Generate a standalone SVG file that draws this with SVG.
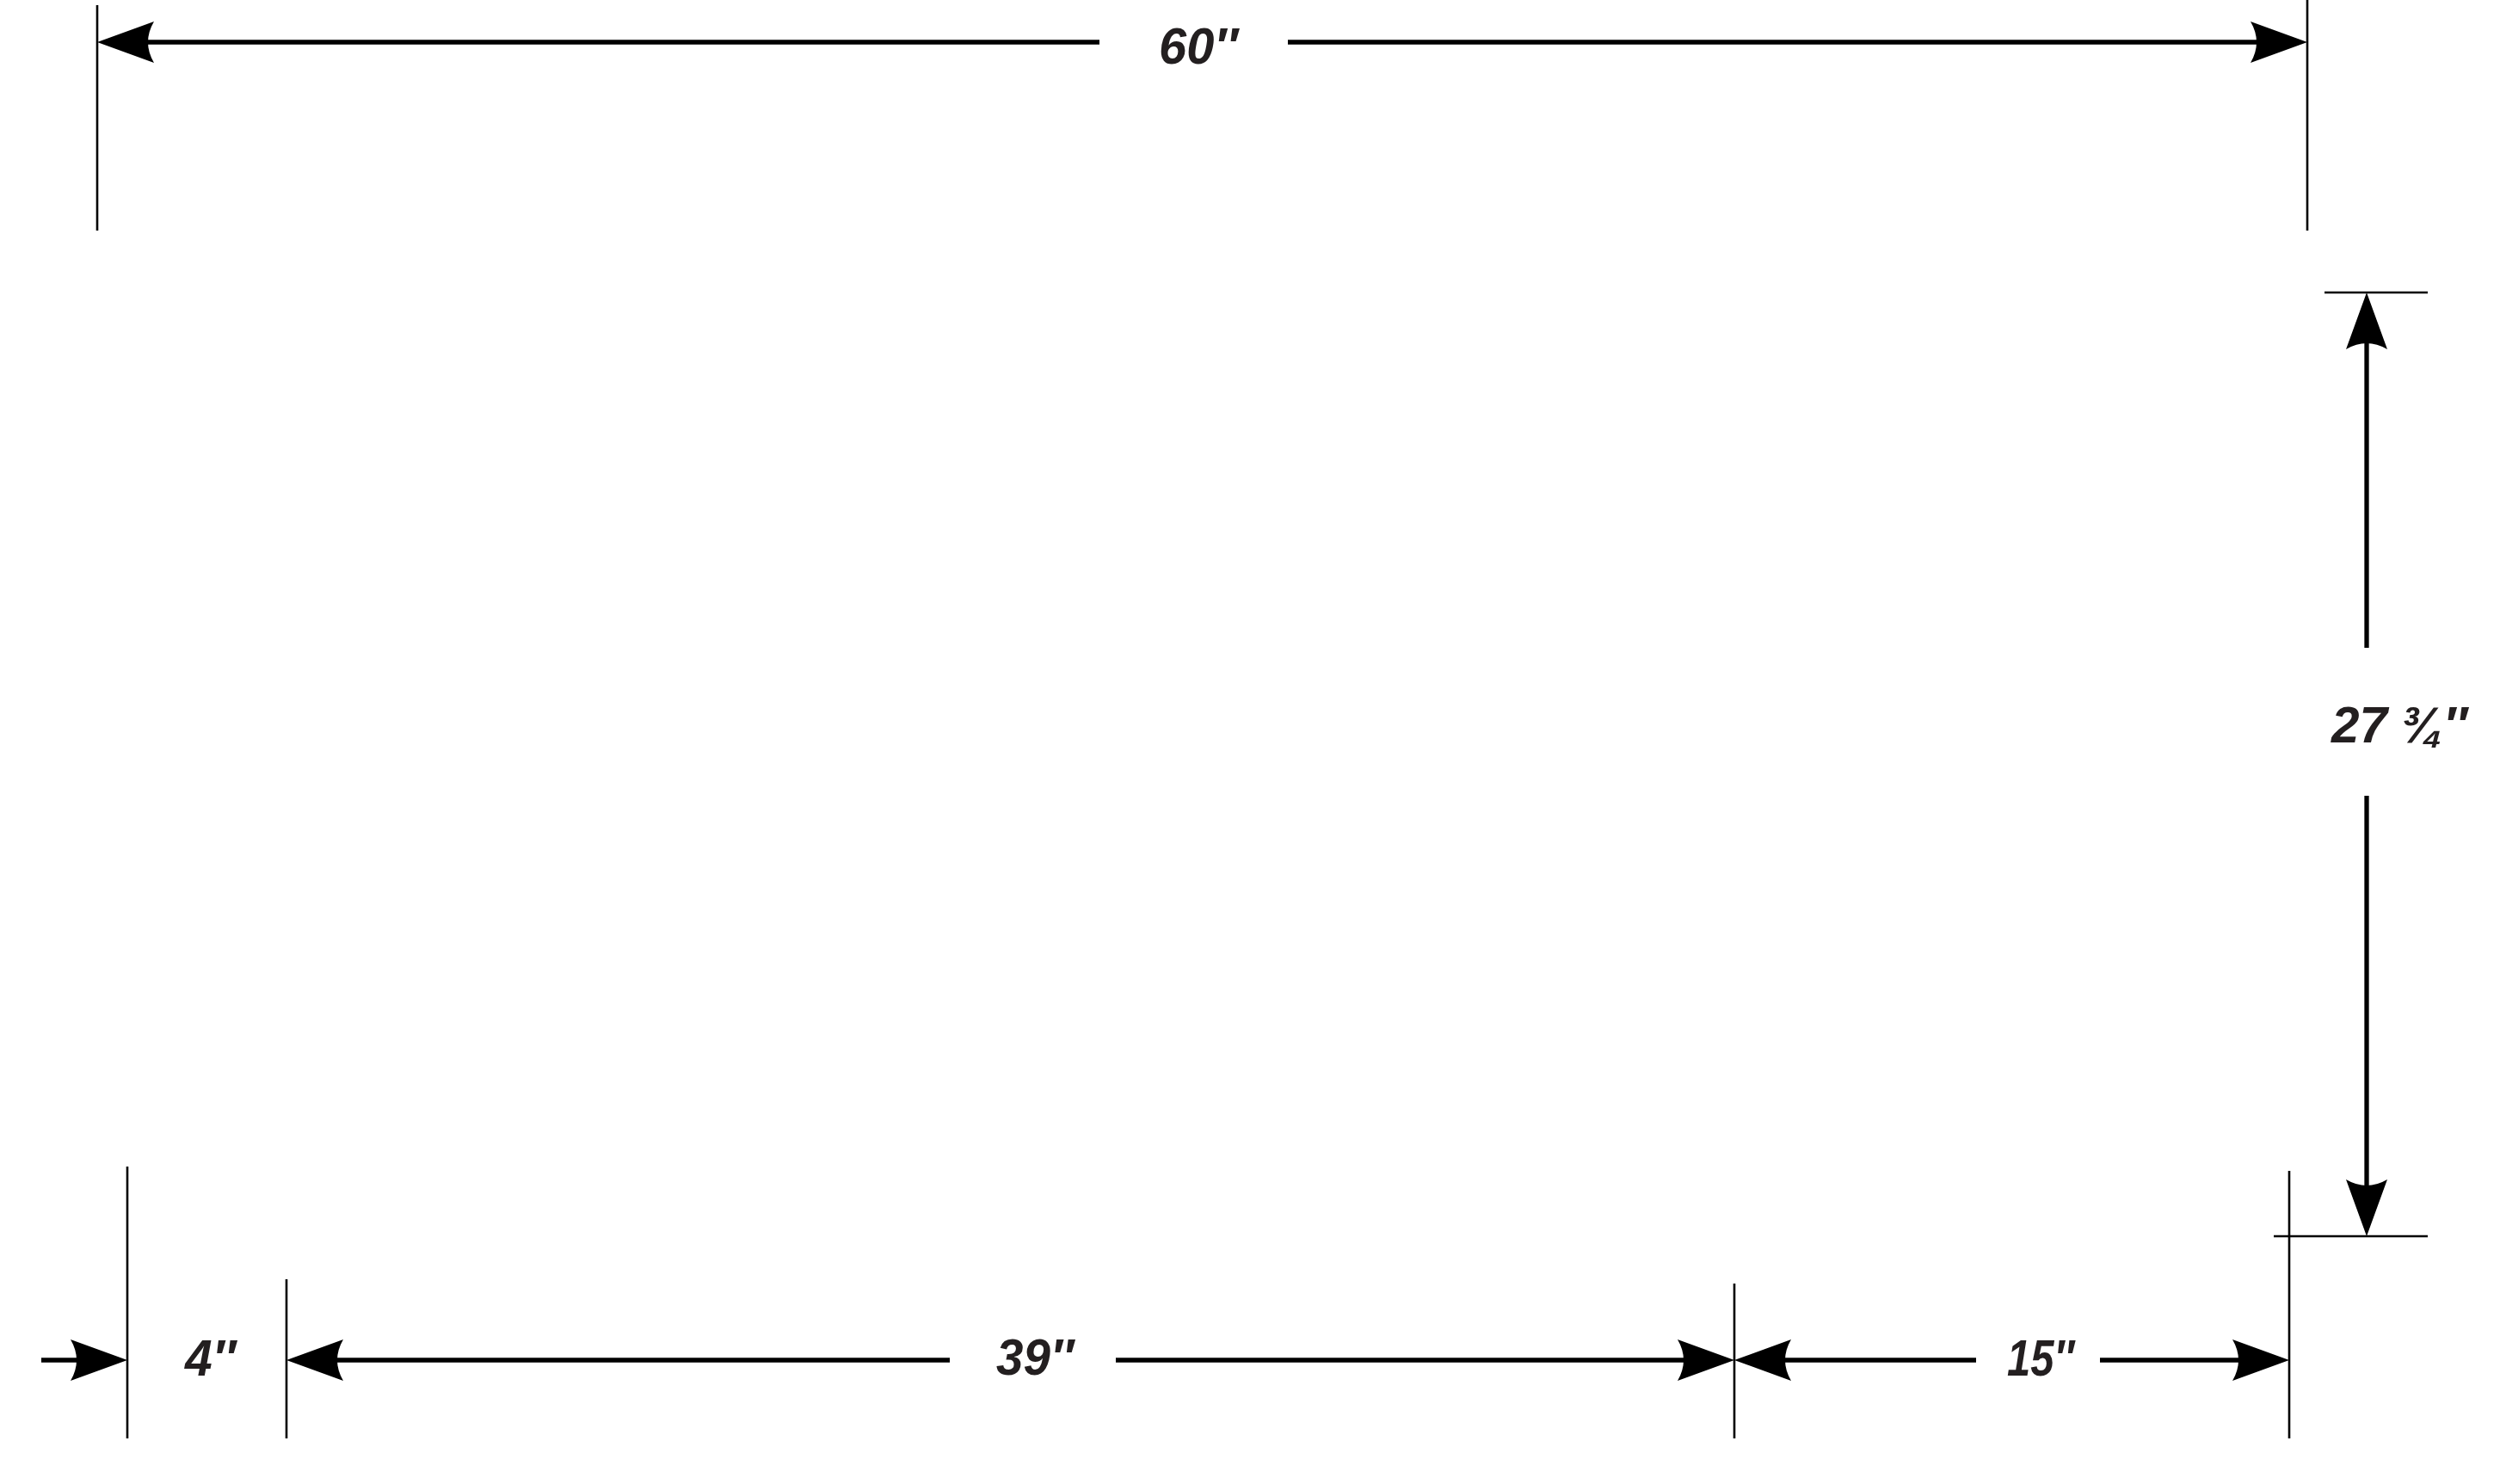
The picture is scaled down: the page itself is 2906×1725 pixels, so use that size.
<svg xmlns="http://www.w3.org/2000/svg" xmlns:xlink="http://www.w3.org/1999/xlink" width="2906" height="1725" viewBox="0 0 2906 1725">
<style>
.ext{stroke:#000;stroke-width:2.6;fill:none}
.dim{stroke:#000;stroke-width:5.3;fill:none}
.lbl{font-family:"Liberation Sans","DejaVu Sans",sans-serif;font-weight:bold;font-style:italic;font-size:60px;fill:#231f20}
</style>
<defs>
<path id="ah" d="M0,0 L66,-24 Q52,0 66,24 Z" fill="#000"/>
</defs>
<rect width="2906" height="1725" fill="#fff"/>
<g id="connectors">
<line class="ext" x1="113" y1="6" x2="113" y2="268"/>
<line class="ext" x1="2682" y1="0" x2="2682" y2="268"/>
<line class="ext" x1="2702" y1="340" x2="2822" y2="340"/>
<line class="ext" x1="2643" y1="1437" x2="2822" y2="1437"/>
<line class="ext" x1="2661" y1="1361" x2="2661" y2="1672"/>
<line class="ext" x1="148" y1="1356" x2="148" y2="1672"/>
<line class="ext" x1="333" y1="1487" x2="333" y2="1672"/>
<line class="ext" x1="2016" y1="1492" x2="2016" y2="1672"/>
</g>
<g id="dim-60">
<line class="dim" x1="160" y1="49" x2="1278" y2="49"/>
<line class="dim" x1="1497" y1="49" x2="2635" y2="49"/>
<use xlink:href="#ah" transform="translate(113,49)"/>
<use xlink:href="#ah" transform="translate(2682,49) rotate(180)"/>
<text class="lbl" x="1347" y="74" textLength="92" lengthAdjust="spacingAndGlyphs">60″</text>
</g>
<g id="dim-27-3-4">
<line class="dim" x1="2751" y1="385" x2="2751" y2="753"/>
<line class="dim" x1="2751" y1="925" x2="2751" y2="1392"/>
<use xlink:href="#ah" transform="translate(2751,340) rotate(90)"/>
<use xlink:href="#ah" transform="translate(2751,1437) rotate(-90)"/>
<text class="lbl" x="2710" y="863" textLength="158" lengthAdjust="spacingAndGlyphs">27 ¾″</text>
</g>
<g id="dim-4">
<line class="dim" x1="48" y1="1581" x2="100" y2="1581"/>
<use xlink:href="#ah" transform="translate(148,1581) rotate(180)"/>
<text class="lbl" x="215" y="1599" textLength="59" lengthAdjust="spacingAndGlyphs">4″</text>
</g>
<g id="dim-39">
<line class="dim" x1="380" y1="1581" x2="1104" y2="1581"/>
<line class="dim" x1="1297" y1="1581" x2="1968" y2="1581"/>
<use xlink:href="#ah" transform="translate(333,1581)"/>
<use xlink:href="#ah" transform="translate(2016,1581) rotate(180)"/>
<text class="lbl" x="1158" y="1598" textLength="90" lengthAdjust="spacingAndGlyphs">39″</text>
</g>
<g id="dim-15">
<line class="dim" x1="2064" y1="1581" x2="2297" y2="1581"/>
<line class="dim" x1="2441" y1="1581" x2="2613" y2="1581"/>
<use xlink:href="#ah" transform="translate(2016,1581)"/>
<use xlink:href="#ah" transform="translate(2661,1581) rotate(180)"/>
<text class="lbl" x="2333" y="1599" textLength="78" lengthAdjust="spacingAndGlyphs">15″</text>
</g>
</svg>
